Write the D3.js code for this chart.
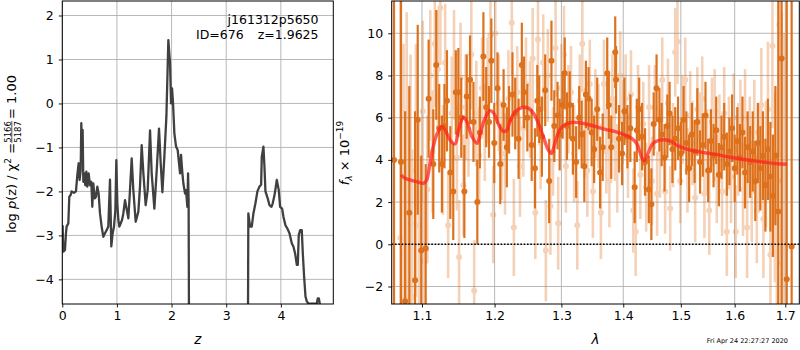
<!DOCTYPE html>
<html><head><meta charset="utf-8">
<script src="https://cdn.jsdelivr.net/npm/d3@7"></script>
<style>body{margin:0;background:#fff} svg{display:block} text{font-family:"DejaVu Sans",sans-serif;fill:#000}</style>
</head><body><svg id="c" width="800" height="350"></svg>
<script>
// ---------- left panel: redshift probability ----------
const zGrid = [0.006,0.018,0.049,0.067,0.079,0.110,0.128,0.153,0.171,0.214,0.250,0.275,0.299,0.317,0.336,0.348,0.360,0.372,0.385,0.403,0.421,0.440,0.458,0.482,0.507,0.531,0.549,0.568,0.592,0.617,0.641,0.665,0.690,0.720,0.751,0.781,0.812,0.842,0.873,0.897,0.922,0.946,0.971,0.989,1.007,1.026,1.044,1.068,1.093,1.117,1.148,1.209,1.239,1.270,1.300,1.343,1.392,1.422,1.453,1.484,1.526,1.563,1.606,1.636,1.685,1.728,1.770,1.801,1.832,1.868,1.905,1.941,1.972,1.990,2.009,2.027,2.051,2.082,2.112,2.155,2.173,2.198,2.216,2.247,2.265,2.289,2.302,2.312,2.330,3.385,3.405,3.437,3.468,3.498,3.535,3.571,3.608,3.639,3.651,3.681,3.700,3.718,3.755,3.791,3.828,3.852,3.889,3.926,3.962,3.987,4.023,4.048,4.084,4.121,4.158,4.200,4.231,4.261,4.292,4.310,4.328,4.353,4.383,4.402,4.426,4.451,4.475,4.505,4.548,4.658,4.676,4.695,4.719,4.760,4.960];
const logPz = [-2.77,-3.37,-3.33,-2.95,-2.80,-2.73,-2.12,-2.08,-2.00,-2.03,-2.00,-1.63,-1.36,-1.74,-1.52,-0.45,-1.06,-0.60,-1.78,-1.59,-1.86,-1.55,-1.89,-1.59,-1.86,-1.78,-2.35,-1.82,-2.16,-2.12,-1.89,-2.05,-2.50,-2.80,-3.03,-2.95,-2.88,-2.80,-1.73,-3.25,-2.95,-2.80,-2.43,-1.29,-2.27,-2.65,-2.80,-2.73,-2.65,-2.50,-2.20,-2.61,-1.97,-1.25,-1.97,-2.69,-2.46,-1.89,-0.95,-1.59,-2.31,-1.97,-0.61,-1.59,-2.39,-1.52,-0.57,-1.36,-2.02,-1.21,-0.30,1.44,0.91,0.00,0.34,0.00,-0.68,-0.98,-1.06,-1.59,-1.17,-1.59,-1.82,-2.05,-1.97,-2.35,-1.59,-2.20,-10,-10,-2.50,-2.80,-2.80,-2.50,-2.27,-2.00,-1.89,-1.85,-1.21,-0.98,-1.44,-2.00,-2.14,-2.31,-2.35,-2.27,-2.05,-1.74,-1.97,-2.35,-2.39,-2.58,-2.77,-2.85,-2.95,-3.18,-3.26,-3.41,-3.67,-3.67,-2.99,-2.88,-2.88,-3.41,-3.94,-4.39,-4.50,-4.55,-4.55,-4.55,-4.43,-4.43,-4.60,-6.00,-10];
const zTicks = [0,1,2,3,4];
const pTicks = [-4,-3,-2,-1,0,1,2];

// ---------- right panel: spectrum ----------
const lamTicks = [1.1,1.2,1.3,1.4,1.5,1.6,1.7];
const fTicks = [-2,0,2,4,6,8,10];

const lamModel = [1.0725,1.0778,1.0842,1.0930,1.1017,1.1062,1.1106,1.1150,1.1204,1.1264,1.1309,1.1377,1.1446,1.1492,1.1562,1.1609,1.1679,1.1750,1.1797,1.1854,1.1930,1.1988,1.2060,1.2132,1.2181,1.2230,1.2303,1.2400,1.2499,1.2573,1.2647,1.2722,1.2797,1.2848,1.2898,1.2974,1.3050,1.3153,1.3256,1.3387,1.3545,1.3705,1.3867,1.4031,1.4141,1.4224,1.4281,1.4337,1.4377,1.4423,1.4509,1.4625,1.4741,1.4829,1.4918,1.5068,1.5249,1.5432,1.5618,1.5868,1.6122,1.6381,1.6644,1.6843,1.7032];
const fModel = [3.29,3.13,3.05,2.97,2.89,3.05,3.84,4.63,5.26,5.58,5.42,4.94,4.76,5.42,6.02,5.81,5.10,4.79,5.26,5.89,6.33,6.21,5.66,5.34,5.42,5.89,6.29,6.48,6.45,6.21,5.73,5.10,4.47,4.31,4.79,5.42,5.66,5.77,5.77,5.70,5.58,5.45,5.34,5.18,5.02,4.79,4.39,4.00,4.00,4.31,4.79,4.94,4.94,4.87,4.71,4.55,4.42,4.34,4.27,4.15,4.04,3.95,3.87,3.82,3.79];

const darkLam = [1.0637,1.0727,1.0780,1.0834,1.0909,1.0944,1.0990,1.1049,1.1088,1.1150,1.1190,1.1230,1.1266,1.1300,1.1334,1.1380,1.1420,1.1455,1.1490,1.1530,1.1573,1.1606,1.1652,1.1700,1.1754,1.1790,1.1840,1.1880,1.1920,1.1953,1.1995,1.2042,1.2082,1.2130,1.2177,1.2210,1.2260,1.2300,1.2350,1.2398,1.2430,1.2480,1.2545,1.2594,1.2630,1.2659,1.2700,1.2750,1.2811,1.2846,1.2890,1.2940,1.2973,1.3020,1.3052,1.3087,1.3130,1.3180,1.3232,1.3280,1.3320,1.3362,1.3387,1.3430,1.3480,1.3520,1.3570,1.3617,1.3660,1.3734,1.3760,1.3800,1.3866,1.3880,1.3930,1.3980,1.4020,1.4070,1.4120,1.4193,1.4230,1.4270,1.4320,1.4370,1.4436,1.4480,1.4520,1.4570,1.4620,1.4660,1.4710,1.4760,1.4800,1.4850,1.4900,1.4950,1.5000,1.5050,1.5100,1.5150,1.5200,1.5250,1.5300,1.5350,1.5400,1.5450,1.5500,1.5550,1.5600,1.5650,1.5700,1.5750,1.5800,1.5850,1.5900,1.5950,1.6000,1.6050,1.6100,1.6150,1.6200,1.6250,1.6300,1.6350,1.6400,1.6450,1.6500,1.6550,1.6600,1.6650,1.6700,1.6750,1.6800,1.6858,1.6926,1.7030,1.7130];
const darkFlux = [4.0,3.9,-2.7,1.5,-1.7,5.9,-0.3,-0.2,6.9,3.8,8.5,5.5,3.8,5.6,6.8,3.4,2.5,7.2,7.2,6.0,2.5,7.0,7.8,5.8,2.0,5.3,8.9,6.5,5.8,8.7,4.8,7.4,3.8,6.6,4.6,5.9,7.1,6.2,5.0,8.5,7.2,6.0,4.7,3.6,6.8,6.4,5.1,7.3,3.0,8.7,5.6,6.1,5.2,6.6,8.1,5.6,6.6,5.0,3.9,6.0,5.2,3.7,7.1,6.9,5.3,4.5,6.4,3.4,4.6,8.1,6.6,4.6,9.1,7.8,5.0,4.3,6.3,5.1,5.5,2.7,5.4,6.4,5.1,3.9,2.6,1.9,5.7,7.4,5.9,5.2,4.1,5.6,6.2,4.5,5.0,5.5,4.3,5.9,4.8,3.6,5.2,4.4,5.8,3.9,4.7,6.1,3.5,4.9,4.2,5.4,3.3,4.6,5.1,3.8,4.4,5.5,3.6,4.9,4.1,5.3,3.4,4.6,3.9,4.4,3.0,4.8,3.6,4.2,2.8,4.5,3.2,2.3,4.2,1.55,8.8,-1.66,-0.1];
const darkErr = [20,20,9,6,8,4.5,4.5,4,2.8,2.6,2.6,2.1,2.3,2.0,2.4,2.2,2.3,2.0,2.1,1.9,2.2,2.0,2.1,1.9,2.0,1.7,2.1,1.9,1.7,2.0,1.9,1.7,1.9,1.7,1.9,1.6,2.0,1.7,1.9,2.0,1.7,1.6,1.7,1.9,1.7,1.6,1.9,1.7,2.0,1.9,1.7,1.6,1.7,1.6,1.7,1.6,1.6,1.7,1.7,1.5,1.6,1.7,1.6,1.5,1.6,1.6,1.5,1.7,1.6,1.7,1.6,1.5,1.7,1.6,1.6,1.5,1.6,1.5,1.6,1.7,1.5,1.5,1.6,1.6,1.6,1.7,1.5,1.6,1.5,1.5,1.6,1.5,1.5,1.6,1.5,1.5,1.5,1.6,1.5,1.6,1.5,1.5,1.6,1.5,1.5,1.6,1.5,1.5,1.5,1.6,1.5,1.5,1.6,1.5,1.6,1.6,1.6,1.6,1.6,1.7,1.7,1.7,1.7,1.9,1.9,1.9,2.0,2.1,2.2,2.4,2.6,2.9,3.3,14,15,20,20];

const lightLam = [1.0720,1.0760,1.0800,1.0850,1.0870,1.0920,1.0960,1.1010,1.1030,1.1070,1.1110,1.1140,1.1170,1.1210,1.1245,1.1280,1.1310,1.1350,1.1400,1.1430,1.1470,1.1500,1.1520,1.1560,1.1590,1.1630,1.1670,1.1710,1.1740,1.1780,1.1820,1.1860,1.1900,1.1940,1.1980,1.2010,1.2060,1.2100,1.2150,1.2200,1.2250,1.2280,1.2330,1.2370,1.2420,1.2460,1.2520,1.2560,1.2600,1.2640,1.2680,1.2720,1.2760,1.2790,1.2830,1.2870,1.2910,1.2950,1.3000,1.3040,1.3070,1.3110,1.3150,1.3200,1.3250,1.3290,1.3330,1.3370,1.3410,1.3450,1.3500,1.3540,1.3590,1.3630,1.3680,1.3720,1.3770,1.3820,1.3860,1.3900,1.3950,1.3990,1.4040,1.4080,1.4130,1.4170,1.4210,1.4250,1.4290,1.4340,1.4390,1.4440,1.4490,1.4540,1.4580,1.4630,1.4670,1.4720,1.4770,1.4810,1.4860,1.4900,1.4940,1.4990,1.5030,1.5080,1.5120,1.5170,1.5210,1.5260,1.5300,1.5350,1.5390,1.5430,1.5480,1.5520,1.5570,1.5620,1.5660,1.5710,1.5760,1.5800,1.5850,1.5890,1.5930,1.5980,1.6020,1.6070,1.6110,1.6160,1.6200,1.6240,1.6290,1.6330,1.6380,1.6430,1.6470,1.6520,1.6560,1.6610,1.6650,1.6700,1.6740,1.6790,1.6830,1.6880,1.6930,1.6970];
const lightFlux = [0.3,-0.5,2.0,1.0,-2.5,3.5,0.9,6.3,-0.8,2.6,8.0,4.4,9.5,8.3,11.2,4.0,8.6,0.9,6.2,8.5,4.1,-0.6,7.9,2.8,6.5,5.5,9.0,-2.2,6.2,4.2,7.4,5.3,7.3,9.9,1.4,10.0,6.7,4.3,3.8,6.9,10.5,0.8,7.2,3.7,5.5,7.6,6.4,8.8,1.5,9.7,4.8,8.6,-0.3,8.0,1.8,4.4,9.3,1.0,7.4,9.0,3.7,6.4,7.2,4.3,0.9,6.8,9.5,5.3,3.5,7.6,2.5,6.2,5.6,1.5,7.6,4.4,3.0,6.9,5.0,3.6,8.0,5.8,6.9,4.2,7.1,1.6,0.6,6.5,3.3,5.7,2.7,6.5,3.0,6.5,2.4,4.3,7.8,2.5,6.7,1.7,4.7,9.1,9.6,3.0,5.9,7.8,3.5,6.1,4.8,2.2,6.4,5.1,6.9,2.4,4.4,1.6,5.8,6.3,3.1,5.0,2.5,6.2,0.6,4.8,3.2,6.0,0.6,4.5,5.5,2.6,6.0,0.8,4.6,2.5,5.3,1.6,4.1,6.6,1.2,3.8,6.4,-0.5,9.4,2.7,-0.9,10.4,3.0,0.0];
const lightErr = [12,10,9,8,7,6,5,4.3,3.8,3.5,3.1,2.9,3.0,2.8,2.7,2.6,2.8,2.5,2.7,2.6,2.5,2.7,2.6,2.4,2.5,2.3,2.6,2.4,2.5,2.3,2.4,2.3,2.5,2.4,2.3,2.5,2.3,2.2,2.4,2.3,2.5,2.3,2.2,2.4,2.3,2.2,2.3,2.4,2.2,2.3,2.2,2.3,2.4,2.2,2.3,2.1,2.3,2.2,2.1,2.3,2.2,2.1,2.2,2.3,2.1,2.2,2.3,2.1,2.2,2.1,2.2,2.1,2.0,2.2,2.1,2.0,2.2,2.1,2.0,2.1,2.1,2.0,2.1,2.0,2.1,2.0,2.1,2.0,2.1,2.0,2.1,2.0,2.1,2.0,2.0,2.1,2.0,2.0,2.1,2.0,2.0,2.1,2.0,2.0,2.1,2.0,2.0,2.1,2.0,2.1,2.0,2.1,2.0,2.1,2.0,2.1,2.1,2.0,2.1,2.1,2.1,2.2,2.1,2.2,2.2,2.1,2.2,2.2,2.3,2.2,2.3,2.4,2.4,2.4,2.5,2.5,2.6,2.7,2.8,3.0,3.2,3.5,3.9,4.5,5.3,6.3,8,10];

// ---------- drawing ----------
const svg = d3.select("#c");
const L = {x0:62.3,x1:333.3,y0:1,y1:304};
const R = {x0:391.7,x1:799.3,y0:1,y1:304};
const zScale = d3.scaleLinear().domain([0,4.96]).range([L.x0,L.x1]);
const pScale = d3.scaleLinear().domain([-4.56,2.33]).range([L.y1,L.y0]);
const lamScale = d3.scaleLog().domain([1.0608,1.7288]).range([R.x0,R.x1]);
const fScale = d3.scaleLinear().domain([-2.83,11.53]).range([R.y1,R.y0]);

const defs = svg.append("defs");
[["clipL",L],["clipR",R]].forEach(([id,b])=>{
  defs.append("clipPath").attr("id",id).append("rect")
    .attr("x",b.x0).attr("y",b.y0).attr("width",b.x1-b.x0).attr("height",b.y1-b.y0);
});

const GRID = "#b0b0b0", TICKFS = "12.5px";
function panel(b, xs, ys, xt, yt, xfmt, yfmt){
  const g = svg.append("g");
  g.selectAll(".gx").data(xt).join("line")
    .attr("x1",d=>xs(d)).attr("x2",d=>xs(d)).attr("y1",b.y0).attr("y2",b.y1)
    .attr("stroke",GRID).attr("stroke-width",0.9);
  g.selectAll(".gy").data(yt).join("line")
    .attr("x1",b.x0).attr("x2",b.x1).attr("y1",d=>ys(d)).attr("y2",d=>ys(d))
    .attr("stroke",GRID).attr("stroke-width",0.9);
  const ax = svg.append("g").attr("transform",`translate(0,${b.y1})`)
    .call(d3.axisBottom(xs).tickValues(xt).tickFormat(xfmt).tickSize(3.5).tickPadding(4).tickSizeOuter(0));
  const ay = svg.append("g").attr("transform",`translate(${b.x0},0)`)
    .call(d3.axisLeft(ys).tickValues(yt).tickFormat(yfmt).tickSize(3.5).tickPadding(5).tickSizeOuter(0));
  [ax,ay].forEach(a=>{
    a.select(".domain").remove();
    a.selectAll("text").attr("font-size",TICKFS).attr("font-family","DejaVu Sans").attr("fill","#000");
    a.selectAll("line").attr("stroke","#000").attr("stroke-width",0.9);
  });
  return g;
}
const intFmt = d => d3.format("d")(d);
panel(L, zScale, pScale, zTicks, pTicks, intFmt, intFmt);
panel(R, lamScale, fScale, lamTicks, fTicks, d3.format(".1f"), intFmt);

// left curve
const pzLine = d3.line().x((d,i)=>zScale(zGrid[i])).y(d=>pScale(d));
svg.append("g").attr("clip-path","url(#clipL)")
  .append("path").attr("d",pzLine(logPz))
  .attr("fill","none").attr("stroke","#404040").attr("stroke-width",2.3).attr("stroke-linejoin","round");

// right spectra
const ORANGE = "#dc6b12";
const gR = svg.append("g").attr("clip-path","url(#clipR)");
function spec(lams, flux, errs, opacity, w){
  const g = gR.append("g").attr("opacity",opacity);
  const idx = d3.range(Math.min(lams.length, flux.length, errs.length));
  g.selectAll("line").data(idx).join("line")
    .attr("x1",i=>lamScale(lams[i])).attr("x2",i=>lamScale(lams[i]))
    .attr("y1",i=>fScale(flux[i]-errs[i])).attr("y2",i=>fScale(flux[i]+errs[i]))
    .attr("stroke",ORANGE).attr("stroke-width",w);
  g.selectAll("circle").data(idx).join("circle")
    .attr("cx",i=>lamScale(lams[i])).attr("cy",i=>fScale(flux[i])).attr("r",3)
    .attr("fill",ORANGE);
}
spec(lightLam, lightFlux, lightErr, 0.3, 2.6);
spec(darkLam, darkFlux, darkErr, 0.95, 2.2);

const modelLine = d3.line().x((d,i)=>lamScale(lamModel[i])).y(d=>fScale(d)).curve(d3.curveCatmullRom);
gR.append("path").attr("d",modelLine(fModel)).attr("fill","none")
  .attr("stroke","#ff1e1e").attr("stroke-opacity",0.72).attr("stroke-width",3.4);
gR.append("line").attr("x1",R.x0).attr("x2",R.x1).attr("y1",fScale(0)).attr("y2",fScale(0))
  .attr("stroke","#000").attr("stroke-width",1.6).attr("stroke-dasharray","1.6,1.7");

// frames
[L,R].forEach(b=>svg.append("rect").attr("x",b.x0).attr("y",b.y0).attr("width",b.x1-b.x0).attr("height",b.y1-b.y0)
  .attr("fill","none").attr("stroke","#000").attr("stroke-width",1));

// annotations
svg.append("text").attr("x",318.5).attr("y",24).attr("text-anchor","end").attr("font-size","12.5px").text("j161312p5650");
svg.append("text").attr("x",196).attr("y",38.5).attr("font-size","12.5px").text("ID=676");
svg.append("text").attr("x",318.5).attr("y",38.5).attr("text-anchor","end").attr("font-size","12.5px").text("z=1.9625");

// axis labels
svg.append("text").attr("x",(L.x0+L.x1)/2).attr("y",344).attr("text-anchor","middle").attr("font-size","13.5px").attr("font-style","italic").text("z");
svg.append("text").attr("x",(R.x0+R.x1)/2).attr("y",344).attr("text-anchor","middle").attr("font-size","13.5px").attr("font-style","italic").text("λ");
svg.append("text").attr("x",788).attr("y",343).attr("text-anchor","end").attr("font-size","6.5px").text("Fri Apr 24 22:27:27 2020");

// left y label with fraction
const yl = svg.append("g").attr("transform","translate(16,154) rotate(-90)");
const t1 = yl.append("text").attr("font-size","13px").attr("x",0).attr("y",0);
t1.append("tspan").text("log ");
t1.append("tspan").attr("font-style","italic").text("p");
t1.append("tspan").text("(z) / χ");
t1.append("tspan").attr("font-size","9px").attr("dy",-5).text("2");
t1.append("tspan").attr("dy",5).text(" = ");
const w1 = t1.node().getComputedTextLength();
const fracW = 22;
yl.append("text").attr("font-size","8.5px").attr("x",w1+fracW/2).attr("y",-5.5).attr("text-anchor","middle").text("5166");
yl.append("text").attr("font-size","8.5px").attr("x",w1+fracW/2).attr("y",4.5).attr("text-anchor","middle").text("5187");
yl.append("line").attr("x1",w1).attr("x2",w1+fracW).attr("y1",-4.2).attr("y2",-4.2).attr("stroke","#000").attr("stroke-width",0.7);
const t2 = yl.append("text").attr("font-size","13px").attr("x",w1+fracW+2).attr("y",0).text(" = 1.00");
const total = w1+fracW+2+t2.node().getComputedTextLength();
yl.attr("transform",`translate(16,154) rotate(-90) translate(${-total/2},0)`);

// right y label
const yr = svg.append("text").attr("transform","translate(349,153) rotate(-90)").attr("text-anchor","middle").attr("font-size","13px");
yr.append("tspan").attr("font-style","italic").text("f");
yr.append("tspan").attr("font-size","9px").attr("dy",3).attr("font-style","italic").text("λ");
yr.append("tspan").attr("dy",-3).text(" × 10");
yr.append("tspan").attr("font-size","9px").attr("dy",-6).text("−19");
</script></body></html>
